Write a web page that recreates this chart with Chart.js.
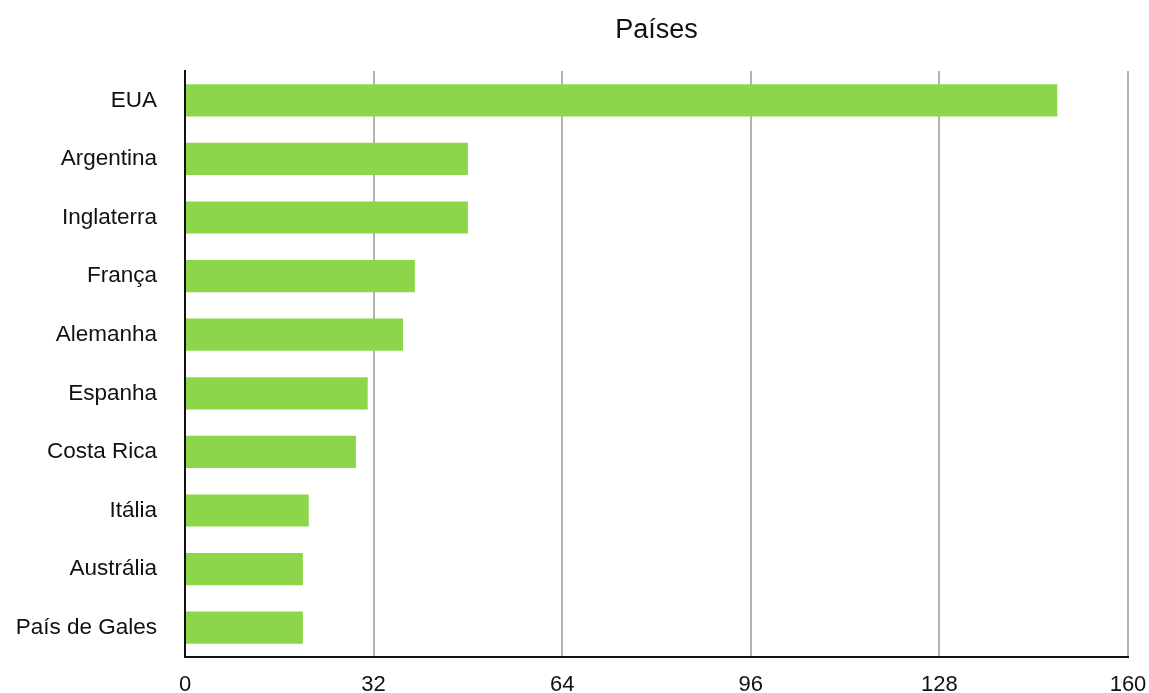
<!DOCTYPE html>
<html>
<head>
<meta charset="utf-8">
<script src="https://cdn.jsdelivr.net/npm/chart.js@4.4.1/dist/chart.umd.min.js"></script>
<style>
  html, body { margin: 0; padding: 0; background: #ffffff; }
  #wrap { width: 1149px; height: 693px; position: relative; }
</style>
</head>
<body>
<div id="wrap"><canvas id="c" width="1149" height="693"></canvas></div>
<script>
const titleText = "Países";
const categories = ["EUA", "Argentina", "Inglaterra", "França", "Alemanha", "Espanha", "Costa Rica", "Itália", "Austrália", "País de Gales"];
const values = [148, 48, 48, 39, 37, 31, 29, 21, 20, 20];
const xMin = 0;
const xMax = 160;
const xStep = 32;

const FONT = "'Liberation Sans', Arial, Helvetica, sans-serif";

const titlePlugin = {
  id: 'areaTitle',
  afterDraw(chart) {
    const ctx = chart.ctx;
    const a = chart.chartArea;
    ctx.save();
    ctx.font = "27px " + FONT;
    ctx.fillStyle = "#111111";
    ctx.textAlign = "center";
    ctx.textBaseline = "middle";
    ctx.fillText(titleText, (a.left + a.right) / 2, 31);
    ctx.restore();
  }
};

new Chart(document.getElementById('c'), {
  type: 'bar',
  data: {
    labels: categories,
    datasets: [{
      data: values,
      backgroundColor: '#8DD64B',
      borderWidth: 0,
      barPercentage: 0.55,
      categoryPercentage: 1.0
    }]
  },
  plugins: [titlePlugin],
  options: {
    indexAxis: 'y',
    responsive: false,
    animation: false,
    devicePixelRatio: 1,
    layout: { padding: { top: 71, right: 21, bottom: 0, left: 0 } },
    plugins: {
      legend: { display: false },
      title: { display: false },
      tooltip: { enabled: false }
    },
    scales: {
      x: {
        min: xMin,
        max: xMax,
        ticks: {
          stepSize: xStep,
          color: '#111111',
          font: { family: FONT, size: 22 },
          padding: 0
        },
        grid: {
          color: '#b4b4b4',
          lineWidth: 2,
          drawTicks: true,
          tickLength: 15,
          tickColor: 'rgba(0,0,0,0)'
        },
        border: { display: true, color: '#111111', width: 2 },
        afterFit(scale) { scale.height = 36; }
      },
      y: {
        ticks: {
          color: '#111111',
          font: { family: FONT, size: 22.5 },
          padding: 0
        },
        grid: {
          display: true,
          drawOnChartArea: false,
          drawTicks: true,
          tickLength: 28,
          tickColor: 'rgba(0,0,0,0)'
        },
        border: { display: true, color: '#111111', width: 2 },
        afterFit(scale) { scale.width = 185; }
      }
    }
  }
});
</script>
</body>
</html>
